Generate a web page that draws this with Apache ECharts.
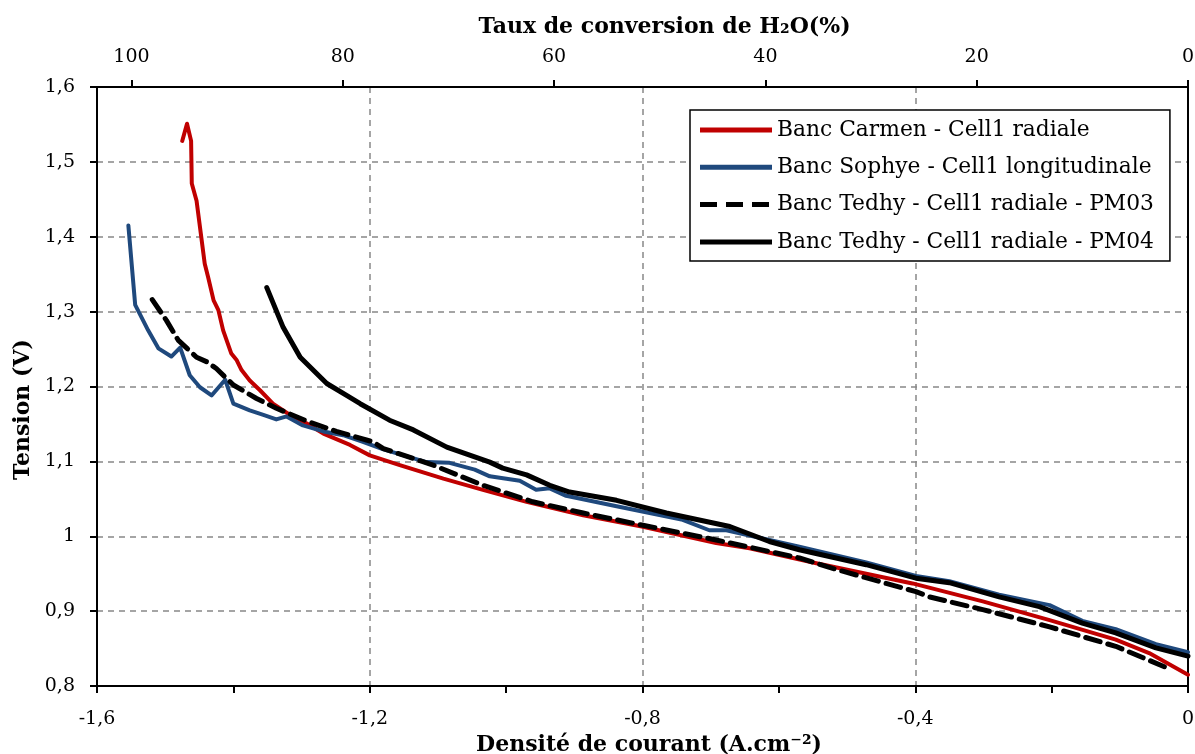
<!DOCTYPE html>
<html>
<head>
<meta charset="utf-8">
<script src="https://cdn.jsdelivr.net/npm/echarts@6/dist/echarts.min.js"></script>
<style>html,body{margin:0;padding:0;background:#fff}#c{width:1195px;height:754px}</style>
</head>
<body>
<div id="c"></div>
<script>
// Series names
const seriesNames = [
  'Banc Carmen - Cell1 radiale',
  'Banc Sophye - Cell1 longitudinale',
  'Banc Tedhy - Cell1 radiale - PM03',
  'Banc Tedhy - Cell1 radiale - PM04'
];
// Banc Carmen (red)
const carmenX = [-1.475,-1.468,-1.462,-1.461,-1.454,-1.442,-1.437,-1.429,-1.422,-1.415,-1.403,-1.395,-1.388,-1.376,-1.361,-1.342,-1.317,-1.293,-1.268,-1.229,-1.2,-1.156,-1.092,-1.034,-0.970,-0.887,-0.801,-0.692,-0.643,-0.545,-0.404,-0.301,-0.203,-0.106,-0.057,0];
const carmenY = [1.528,1.551,1.528,1.471,1.448,1.364,1.346,1.315,1.302,1.275,1.244,1.235,1.222,1.208,1.195,1.177,1.162,1.151,1.137,1.122,1.108,1.095,1.077,1.062,1.046,1.028,1.013,0.991,0.984,0.964,0.937,0.913,0.888,0.862,0.844,0.815];
// Banc Sophye (blue)
const sophyeX = [-1.554,-1.544,-1.525,-1.510,-1.491,-1.478,-1.464,-1.449,-1.432,-1.412,-1.400,-1.376,-1.356,-1.337,-1.322,-1.298,-1.268,-1.239,-1.210,-1.180,-1.117,-1.083,-1.046,-1.024,-0.980,-0.956,-0.936,-0.912,-0.838,-0.741,-0.702,-0.677,-0.570,-0.472,-0.399,-0.350,-0.277,-0.203,-0.155,-0.106,-0.047,0];
const sophyeY = [1.415,1.309,1.275,1.251,1.240,1.252,1.215,1.199,1.188,1.209,1.177,1.168,1.162,1.156,1.160,1.148,1.140,1.135,1.126,1.116,1.099,1.098,1.089,1.080,1.074,1.062,1.064,1.054,1.040,1.022,1.008,1.008,0.986,0.965,0.947,0.940,0.922,0.908,0.887,0.876,0.856,0.845];
// Banc Tedhy PM03 (dashed)
const pm03X = [-1.519,-1.498,-1.481,-1.454,-1.439,-1.425,-1.400,-1.366,-1.337,-1.293,-1.249,-1.195,-1.180,-1.107,-1.034,-0.961,-0.887,-0.801,-0.692,-0.570,-0.521,-0.399,-0.379,-0.301,-0.203,-0.106,-0.030];
const pm03Y = [1.316,1.288,1.262,1.239,1.233,1.224,1.202,1.184,1.171,1.154,1.140,1.126,1.117,1.095,1.068,1.046,1.031,1.015,0.995,0.971,0.957,0.926,0.919,0.902,0.879,0.853,0.824];
// Banc Tedhy PM04 (solid black)
const pm04X = [-1.351,-1.327,-1.302,-1.263,-1.234,-1.214,-1.171,-1.136,-1.087,-1.024,-1.005,-0.970,-0.936,-0.907,-0.838,-0.765,-0.672,-0.614,-0.570,-0.472,-0.399,-0.350,-0.277,-0.218,-0.155,-0.106,-0.047,0];
const pm04Y = [1.332,1.279,1.239,1.204,1.188,1.177,1.155,1.142,1.119,1.099,1.091,1.082,1.068,1.059,1.048,1.031,1.013,0.993,0.982,0.962,0.944,0.938,0.919,0.906,0.884,0.871,0.851,0.840];
// Top axis ticks (conversion %)
const topTicks = [0, 20, 40, 60, 80, 100];

const zip = (xs, ys) => xs.map((x, i) => [x, ys[i]]);
const FONT = 'DejaVu Serif';
const fmt = v => String(Math.round(v * 100) / 100).replace('.', ',');

const ICON_SOLID = 'path://M0,0H72V5H0Z';
const ICON_DASH = 'path://M0,0H17V5H0Z M26,0H43V5H26Z M52,0H69V5H52Z M72,0H72V5H72Z';

const chart = echarts.init(document.getElementById('c'), null, {renderer: 'canvas'});
const gridLine = {show: true, lineStyle: {color: '#888', width: 1.5, type: [6, 5]}};
const titleStyle = {fontFamily: FONT, fontSize: 22, fontWeight: 'bold', color: '#000'};
const tickFont = {fontFamily: FONT, fontSize: 19, color: '#000'};
chart.setOption({
  animation: false,
  backgroundColor: '#fff',
  grid: {left: 97, right: 7, top: 87, bottom: 68, containLabel: false, outerBoundsMode: 'none'},
  legend: {
    orient: 'vertical', left: 690, top: 110,
    padding: [8, 16, 7, 10],
    borderColor: '#000', borderWidth: 1.5, backgroundColor: '#fff',
    itemWidth: 72, itemHeight: 5, itemGap: 13.3,
    textStyle: {fontFamily: FONT, fontSize: 21.8, lineHeight: 24, color: '#000'},
    data: [
      {name: seriesNames[0], icon: ICON_SOLID},
      {name: seriesNames[1], icon: ICON_SOLID},
      {name: seriesNames[2], icon: ICON_DASH},
      {name: seriesNames[3], icon: ICON_SOLID}
    ]
  },
  xAxis: [{
    type: 'value', position: 'bottom', min: -1.6, max: 0, interval: 0.4,
    axisLine: {show: true, onZero: false, lineStyle: {color: '#000', width: 2}},
    axisTick: {show: true, inside: false, length: 7, lineStyle: {color: '#000', width: 2}},
    minorTick: {show: true, splitNumber: 2, length: 7, lineStyle: {color: '#000', width: 2}},
    axisLabel: Object.assign({formatter: fmt, margin: 24}, tickFont),
    splitLine: gridLine,
    name: 'Densité de courant (A.cm⁻²)', nameLocation: 'middle', nameGap: 45,
    nameTextStyle: Object.assign({padding: [0, 0, 0, 13]}, titleStyle)
  }, {
    type: 'value', position: 'top', min: 0, max: 103.26, interval: 20, inverse: true,
    axisLine: {show: true, onZero: false, lineStyle: {color: '#000', width: 2}},
    axisTick: {show: true, inside: false, length: 7, lineStyle: {color: '#000', width: 2}},
    axisLabel: Object.assign({formatter: v => topTicks.includes(Math.round(v * 1000) / 1000) ? String(v) : '',
      showMaxLabel: false, margin: 20}, tickFont),
    splitLine: {show: false},
    name: 'Taux de conversion de H₂O(%)', nameLocation: 'middle', nameGap: 49,
    nameTextStyle: Object.assign({padding: [0, 0, 0, 44]}, titleStyle)
  }],
  yAxis: [{
    type: 'value', min: 0.8, max: 1.6, interval: 0.1,
    axisLine: {show: true, onZero: false, lineStyle: {color: '#000', width: 2}},
    axisTick: {show: true, length: 7, lineStyle: {color: '#000', width: 2}},
    axisLabel: Object.assign({formatter: fmt, margin: 22}, tickFont),
    splitLine: gridLine,
    name: 'Tension (V)', nameLocation: 'middle', nameGap: 60, nameRotate: 90,
    nameTextStyle: Object.assign({padding: [0, 46, 0, 0]}, titleStyle)
  }, {
    type: 'value', position: 'right', min: 0.8, max: 1.6, interval: 0.1,
    axisLine: {show: true, onZero: false, lineStyle: {color: '#000', width: 2}},
    axisTick: {show: false}, axisLabel: {show: false}, splitLine: {show: false}
  }],
  series: [
    {name: seriesNames[0], type: 'line', xAxisIndex: 0, yAxisIndex: 0, symbol: 'none', showSymbol: false, z: 2,
     data: zip(carmenX, carmenY), lineStyle: {color: '#C00000', width: 4, cap: 'round', join: 'round'}, itemStyle: {color: '#C00000'}},
    {name: seriesNames[1], type: 'line', xAxisIndex: 0, yAxisIndex: 0, symbol: 'none', showSymbol: false, z: 3,
     data: zip(sophyeX, sophyeY), lineStyle: {color: '#1F497D', width: 4, cap: 'round', join: 'round'}, itemStyle: {color: '#1F497D'}},
    {name: seriesNames[2], type: 'line', xAxisIndex: 0, yAxisIndex: 0, symbol: 'none', showSymbol: false, z: 4,
     data: zip(pm03X, pm03Y), lineStyle: {color: '#000', width: 5, type: [15, 8], cap: 'round', join: 'round'}, itemStyle: {color: '#000'}},
    {name: seriesNames[3], type: 'line', xAxisIndex: 0, yAxisIndex: 0, symbol: 'none', showSymbol: false, z: 5,
     data: zip(pm04X, pm04Y), lineStyle: {color: '#000', width: 5, cap: 'round', join: 'round'}, itemStyle: {color: '#000'}}
  ]
});
</script>
</body>
</html>
